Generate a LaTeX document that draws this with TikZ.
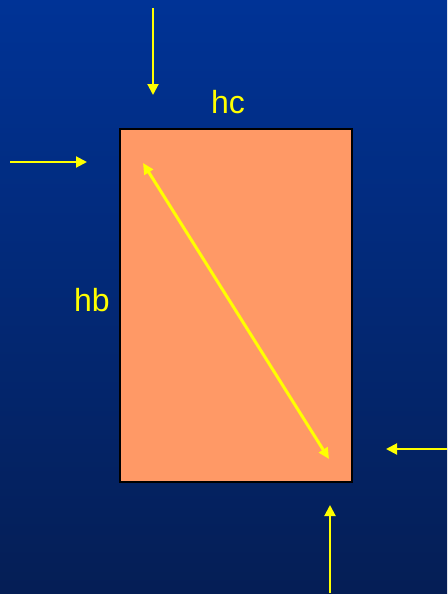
\documentclass[tikz,border=0pt]{standalone}
\usepackage{fontspec}
\setmainfont{Liberation Sans}
\usepackage{xcolor}
\definecolor{fondoA}{RGB}{0, 51, 150}
\definecolor{fondoB}{RGB}{5, 30, 85}
\definecolor{losa}{RGB}{255, 153, 102}
\definecolor{amarillo}{RGB}{255, 255, 0}
\usetikzlibrary{arrows.meta, positioning}

\begin{document}
\begin{tikzpicture}[x=1pt, y=-1pt,
  fuerza/.style={draw=amarillo, line width=2pt, -{Triangle[length=11pt, width=11pt]}},
  diag/.style={draw=amarillo, line width=3pt, {Triangle[length=11pt, width=10pt]}-{Triangle[length=11pt, width=10pt]}},
  muro/.style={rectangle, draw=black, fill=losa, line width=1.8pt, minimum width=232pt, minimum height=353pt, inner sep=0pt},
  etiqueta/.style={text=amarillo, font=\fontsize{32}{32}\selectfont}
]
  \shade[top color=fondoA, bottom color=fondoB] (0,0) rectangle (447,594);
  \useasboundingbox (0,0) rectangle (447,594);

  \node[muro] (panel) at (236,305.5) {};

  \node[etiqueta] (hc) at (228,102) {hc};
  \node[etiqueta] (hb) at (92,300) {hb};

  \coordinate (arribaIni) at (153,8);
  \coordinate (arribaFin) at (153,95);
  \coordinate (izqIni) at (10,162);
  \coordinate (izqFin) at (87,162);
  \coordinate (derIni) at (447,449);
  \coordinate (derFin) at (386,449);
  \coordinate (abajoIni) at (330,593);
  \coordinate (abajoFin) at (330,505);
  \coordinate (diagA) at (143,163);
  \coordinate (diagB) at (329,459);

  \draw[fuerza] (arribaIni) -- (arribaFin);
  \draw[fuerza] (izqIni) -- (izqFin);
  \draw[fuerza] (derIni) -- (derFin);
  \draw[fuerza] (abajoIni) -- (abajoFin);
  \draw[diag] (diagA) -- (diagB);
\end{tikzpicture}
\end{document}
